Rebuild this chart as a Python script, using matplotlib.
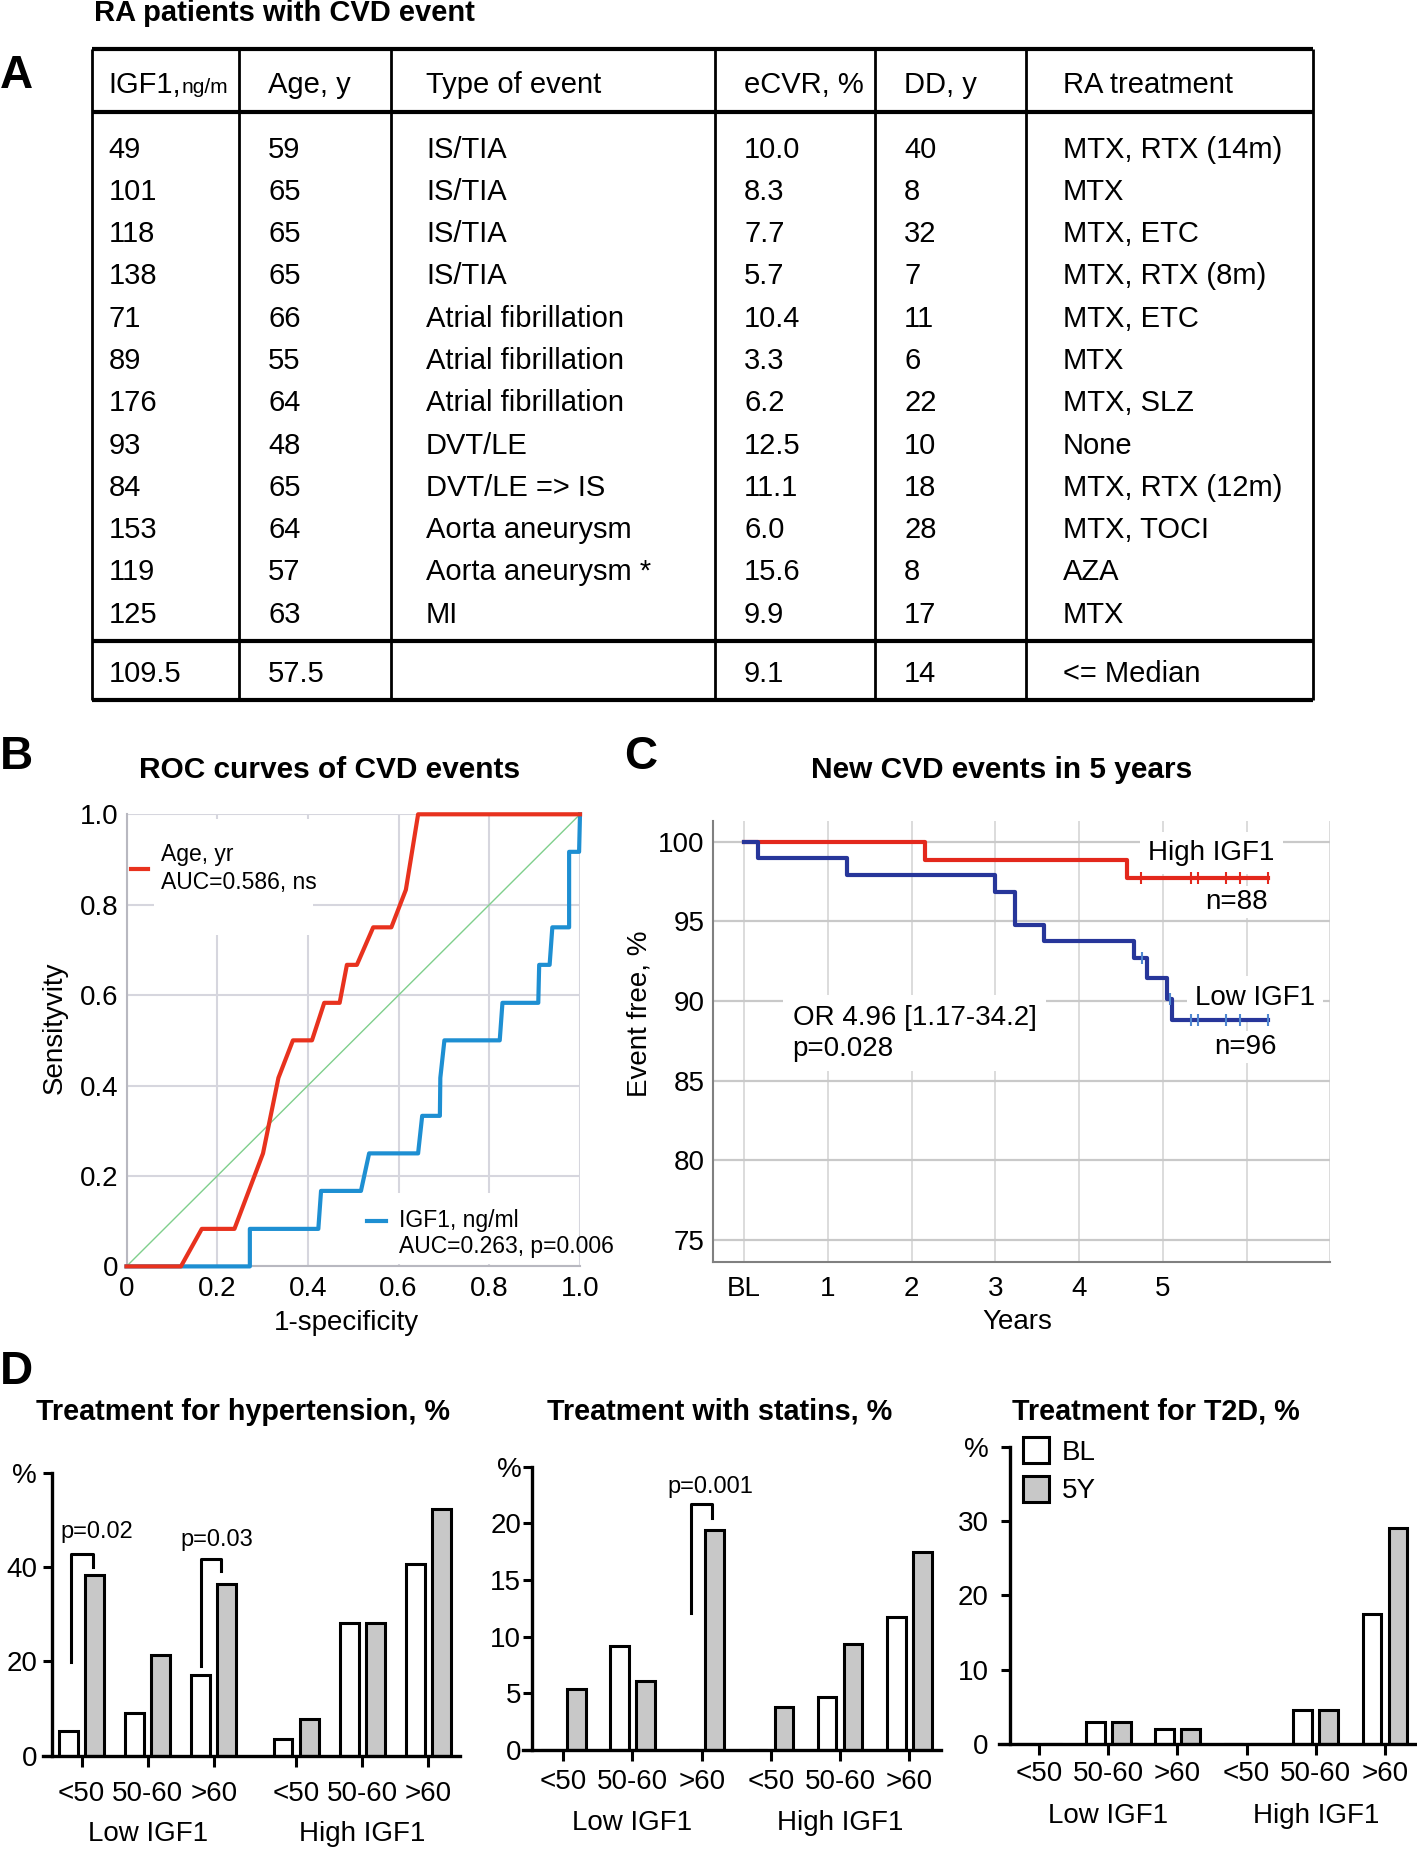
import numpy as np
import matplotlib.pyplot as plt
from matplotlib.patches import Rectangle

plt.rcParams['font.family'] = ['Liberation Sans', 'DejaVu Sans']

W, H = 1417, 1853

# ---- A: table of RA patients with CVD event
igf1_vals = ['49', '101', '118', '138', '71', '89', '176', '93', '84', '153', '119', '125']
age_vals = ['59', '65', '65', '65', '66', '55', '64', '48', '65', '64', '57', '63']
event_types = ['IS/TIA', 'IS/TIA', 'IS/TIA', 'IS/TIA', 'Atrial fibrillation',
               'Atrial fibrillation', 'Atrial fibrillation', 'DVT/LE', 'DVT/LE => IS',
               'Aorta aneurysm', 'Aorta aneurysm *', 'MI']
ecvr_vals = ['10.0', '8.3', '7.7', '5.7', '10.4', '3.3', '6.2', '12.5', '11.1', '6.0', '15.6', '9.9']
dd_vals = ['40', '8', '32', '7', '11', '6', '22', '10', '18', '28', '8', '17']
ra_treatment = ['MTX, RTX (14m)', 'MTX', 'MTX, ETC', 'MTX, RTX (8m)', 'MTX, ETC', 'MTX',
                'MTX, SLZ', 'None', 'MTX, RTX (12m)', 'MTX, TOCI', 'AZA', 'MTX']
header = ['IGF1,', 'Age, y', 'Type of event', 'eCVR, %', 'DD, y', 'RA treatment']
median_row = ['109.5', '57.5', '', '9.1', '14', '<= Median']

# ---- B: ROC curves
age_fpr = [0, 0.12, 0.166, 0.238, 0.301, 0.335, 0.367, 0.409, 0.436, 0.47, 0.486,
           0.508, 0.544, 0.584, 0.616, 0.643, 1.0]
age_tpr = [0, 0, 0.083, 0.083, 0.25, 0.417, 0.5, 0.5, 0.583, 0.583, 0.667,
           0.667, 0.75, 0.75, 0.833, 1.0, 1.0]
igf_fpr = [0, 0.272, 0.272, 0.423, 0.429, 0.517, 0.535, 0.643, 0.652, 0.691, 0.692,
           0.701, 0.823, 0.829, 0.908, 0.910, 0.933, 0.939, 0.976, 0.976, 0.998, 1.0]
igf_tpr = [0, 0, 0.083, 0.083, 0.167, 0.167, 0.25, 0.25, 0.333, 0.333, 0.417,
           0.5, 0.5, 0.583, 0.583, 0.667, 0.667, 0.75, 0.75, 0.917, 0.917, 1.0]

# ---- C: Kaplan-Meier
high_t = [0, 2.16, 4.57, 6.25]
high_s = [100, 98.86, 97.73, 97.73]
high_cens_t = [4.74, 5.33, 5.42, 5.75, 5.92, 6.25]
high_cens_s = [97.73, 97.73, 97.73, 97.73, 97.73, 97.73]
low_t = [0, 0.17, 1.23, 3.0, 3.24, 3.58, 4.65, 4.81, 5.05, 5.11, 6.25]
low_s = [100, 98.96, 97.92, 96.87, 94.79, 93.75, 92.7, 91.45, 90.15, 88.8, 88.8]
low_cens_t = [4.75, 5.08, 5.33, 5.42, 5.75, 5.92, 6.25]
low_cens_s = [92.7, 90.15, 88.8, 88.8, 88.8, 88.8, 88.8]
km_xlabels = ['BL', '1', '2', '3', '4', '5', '', '']

# ---- D: treatments
age_groups = ['<50', '50-60', '>60', '<50', '50-60', '>60']
htn_bl = [5.3, 9.0, 17.1, 3.6, 28.2, 40.7]
htn_5y = [38.4, 21.4, 36.4, 7.7, 28.2, 52.4]
stat_bl = [0, 9.2, 0, 0, 4.65, 11.7]
stat_5y = [5.4, 6.1, 19.4, 3.8, 9.35, 17.45]
t2d_bl = [0, 2.96, 2.0, 0, 4.6, 17.5]
t2d_5y = [0, 2.96, 2.0, 0, 4.6, 29.1]

fig = plt.figure(figsize=(W / 100, H / 100), dpi=100)


def px_axes(x0, y0, x1, y1):
    return fig.add_axes([x0 / W, 1 - y1 / H, (x1 - x0) / W, (y1 - y0) / H])


bg = fig.add_axes([0, 0, 1, 1])
bg.set_xlim(0, W)
bg.set_ylim(H, 0)
bg.axis('off')

# table
col_x = [92, 239, 391, 715, 875, 1026, 1313]
text_x = [108.5, 268, 426, 744, 904, 1063]
bg.vlines(col_x, 48.5, 699.5, color='black', lw=2)
bg.hlines([48.5, 111.5, 640.5, 699.5], 92, 1313, color='black', lw=3)
fs_tab = 21
for j, h in enumerate(header):
    bg.text(text_x[j], 92.7, h, fontsize=fs_tab, va='baseline')
bg.text(182, 92.7, 'ng/m', fontsize=15, va='baseline')
rows = list(zip(igf1_vals, age_vals, event_types, ecvr_vals, dd_vals, ra_treatment))
for i, row in enumerate(rows):
    yb = 146.5 + 42.3 * i + 11
    for j, v in enumerate(row):
        bg.text(text_x[j], yb, v, fontsize=fs_tab, va='baseline')
for j, v in enumerate(median_row):
    bg.text(text_x[j], 682, v, fontsize=fs_tab, va='baseline')

bg.text(94.5, 13, 'RA patients with CVD event', fontsize=21, fontweight='bold', va='center')
for lab, x, y in [('A', 0, 76), ('B', 0, 757), ('C', 624, 757), ('D', 0, 1372)]:
    bg.text(x, y, lab, fontsize=33, fontweight='bold', va='center', ha='left')

bg.text(330, 770, 'ROC curves of CVD events', fontsize=21.5, fontweight='bold', ha='center', va='center')
bg.text(1002, 770, 'New CVD events in 5 years', fontsize=21.5, fontweight='bold', ha='center', va='center')
bg.text(243.5, 1412, 'Treatment for hypertension, %', fontsize=20.7, fontweight='bold', ha='center', va='center')
bg.text(720, 1412, 'Treatment with statins, %', fontsize=20.7, fontweight='bold', ha='center', va='center')
bg.text(1155.7, 1412, 'Treatment for T2D, %', fontsize=20.7, fontweight='bold', ha='center', va='center')

# ---- ROC
ax = px_axes(126.5, 814.3, 580, 1266.4)
ax.set_xlim(0, 1)
ax.set_ylim(0, 1)
ax.set_axisbelow(True)
ax.grid(True, color='#d6d6de', lw=1.5)
for s in ['top', 'right']:
    ax.spines[s].set_visible(False)
for s in ['left', 'bottom']:
    ax.spines[s].set_color('#b8b8c0')
    ax.spines[s].set_linewidth(1.5)
ticks = [0, 0.2, 0.4, 0.6, 0.8, 1.0]
tick_lbl = ['0', '0.2', '0.4', '0.6', '0.8', '1.0']
ax.set_xticks(ticks, tick_lbl)
ax.set_yticks(ticks, tick_lbl)
ax.tick_params(axis='x', length=0, labelsize=20, pad=7)
ax.tick_params(axis='y', length=0, labelsize=20, pad=6)
ax.plot([0, 1], [0, 1], color='#7fcf8c', lw=1, zorder=2)
ax.plot(igf_fpr, igf_tpr, color='#1e8fd2', lw=3, clip_on=False, zorder=3)
ax.plot(age_fpr, age_tpr, color='#e8321e', lw=3, clip_on=False, zorder=4)
ax.add_patch(Rectangle((0.061, 0.732), 0.351, 0.258, transform=ax.transAxes,
                       facecolor='white', edgecolor='none', zorder=1))
ax.add_patch(Rectangle((0.526, 0.005), 0.47, 0.158, transform=ax.transAxes,
                       facecolor='white', edgecolor='none', zorder=1))
ax.plot([0.009, 0.047], [0.88, 0.88], transform=ax.transAxes, color='#e8321e', lw=3, clip_on=False)
ax.text(0.076, 0.911, 'Age, yr', transform=ax.transAxes, fontsize=16.5, va='center')
ax.text(0.076, 0.850, 'AUC=0.586, ns', transform=ax.transAxes, fontsize=16.5, va='center')
ax.plot([0.53, 0.572], [0.10, 0.10], transform=ax.transAxes, color='#1e8fd2', lw=3, clip_on=False)
ax.text(0.601, 0.102, 'IGF1, ng/ml', transform=ax.transAxes, fontsize=16.5, va='center')
ax.text(0.601, 0.043, 'AUC=0.263, p=0.006', transform=ax.transAxes, fontsize=16.5, va='center')
bg.text(55, 1028, 'Sensityvity', fontsize=20, rotation=90, ha='center', va='center')
bg.text(346, 1323, '1-specificity', fontsize=20, ha='center', va='center')

# ---- Kaplan-Meier
km = px_axes(713, 821, 1330.5, 1262)
km.set_xlim(-0.37, 7.0)
km.set_ylim(73.6, 101.3)
km.set_axisbelow(True)
km.set_xticks(range(8), km_xlabels)
km.set_yticks([75, 80, 85, 90, 95, 100])
km.xaxis.grid(True, color='#d9d9d9', lw=1.3)
km.yaxis.grid(True, color='#c9c9c9', lw=1.6)
for s in ['top', 'right']:
    km.spines[s].set_visible(False)
for s in ['left', 'bottom']:
    km.spines[s].set_color('#808080')
    km.spines[s].set_linewidth(1.5)
km.tick_params(axis='x', length=0, labelsize=20, pad=10)
km.tick_params(axis='y', length=0, labelsize=20, pad=6)
km.plot(high_t, high_s, drawstyle='steps-post', color='#e3281c', lw=3, zorder=5)
km.plot(low_t, low_s, drawstyle='steps-post', color='#27369a', lw=3, zorder=5)
km.plot(high_cens_t, high_cens_s, ls='none', marker='|', ms=8, mew=1.5, color='#e3281c', zorder=6)
km.plot(low_cens_t, low_cens_s, ls='none', marker='|', ms=8, mew=1.5, color='#4f86d0', zorder=6)
wb = dict(facecolor='white', edgecolor='none', pad=6)
km.text(5.58, 99.3, 'High IGF1', fontsize=20, ha='center', va='center', bbox=wb)
km.text(5.88, 96.2, 'n=88', fontsize=20, ha='center', va='center', bbox=dict(facecolor='white', edgecolor='none', pad=2))
km.text(6.1, 90.2, 'Low IGF1', fontsize=20, ha='center', va='center', bbox=wb)
km.text(5.98, 87.1, 'n=96', fontsize=20, ha='center', va='center', bbox=dict(facecolor='white', edgecolor='none', pad=2))
km.text(0.58, 87.97, 'OR 4.96 [1.17-34.2]\np=0.028', fontsize=20, ha='left', va='center',
        linespacing=1.25, bbox=dict(facecolor='white', edgecolor='none', pad=7))
bg.text(640, 1014, 'Event free, %', fontsize=20, rotation=90, ha='center', va='center')
bg.text(1017, 1322, 'Years', fontsize=20, ha='center', va='center')


# ---- bar panels
def bar_panel(rect, pos, xlim, bl, y5, ymax, yticks, ylabels, spine_frac,
              xpad, ypad, group_off, unit_px):
    a = px_axes(*rect)
    a.set_facecolor('none')
    pos = np.array(pos)
    w = 18.5 / unit_px
    off = 13 / unit_px
    b1 = a.bar(pos - off, bl, w, color='white', edgecolor='black', lw=2.2, zorder=2)
    b2 = a.bar(pos + off, y5, w, color='#c8c8c8', edgecolor='black', lw=2.2, zorder=2)
    a.set_xlim(*xlim)
    a.set_ylim(0, ymax)
    for s in ['top', 'right']:
        a.spines[s].set_visible(False)
    for s in ['left', 'bottom']:
        a.spines[s].set_linewidth(2.4)
    a.spines['left'].set_position(('axes', spine_frac))
    a.set_xticks(pos, age_groups)
    a.set_yticks(yticks, ylabels)
    a.tick_params(axis='x', length=8, width=2.2, labelsize=20, pad=xpad)
    a.tick_params(axis='y', length=6.5, width=2.2, labelsize=20, pad=ypad)
    for gx, gl in [(pos[:3].mean(), 'Low IGF1'), (pos[3:].mean(), 'High IGF1')]:
        a.annotate(gl, xy=(gx, 0), xycoords=('data', 'axes fraction'),
                   xytext=(0, -group_off * 0.72), textcoords='offset points',
                   ha='center', va='center', fontsize=20)
    return a, b1, b2


def bracket(a, x1, x2, y1, ytop, y2, label, lx, ly):
    a.plot([x1, x1, x2, x2], [y1, ytop, ytop, y2], color='black', lw=2.2, zorder=3)
    a.text(lx, ly, label, fontsize=17, ha='center', va='center')


a1, _, _ = bar_panel((42.7, 1472.7, 460, 1755.7), [0, 1, 2, 3.25, 4.25, 5.25], (-0.59, 5.73),
                     htn_bl, htn_5y, 60, [0, 20, 40, 60], ['0', '20', '40', '%'],
                     9 / 417.3, 10, 4, 78, 66)
bracket(a1, -0.16, 0.17, 19.8, 42.8, 40.0, 'p=0.02', 0.23, 47.5)
bracket(a1, 1.80, 2.11, 19.1, 41.75, 39.2, 'p=0.03', 2.04, 45.75)

a2, _, _ = bar_panel((523.3, 1466.7, 940.7, 1750), [0, 1, 2, 3, 4, 5], (-0.578, 5.454),
                     stat_bl, stat_5y, 25, [0, 5, 10, 15, 20, 25], ['0', '5', '10', '15', '20', '%'],
                     8.4 / 417.4, 6, 1, 73, 69.2)
bracket(a2, 1.846, 2.154, 12.06, 21.7, 20.5, 'p=0.001', 2.12, 23.2)

a3, bb1, bb2 = bar_panel((999, 1446.6, 1417, 1744.3), [0, 1, 2, 3, 4, 5], (-0.583, 5.466),
                         t2d_bl, t2d_5y, 40, [0, 10, 20, 30, 40], ['0', '10', '20', '30', '%'],
                         11 / 418, 4, 9, 72, 69.1)
a3.legend([bb1, bb2], ['BL', '5Y'], loc='upper left', bbox_to_anchor=(0.0574, 1.032),
          frameon=False, fontsize=20, handlelength=0.94, handleheight=1.08,
          handletextpad=0.47, labelspacing=0.36, borderpad=0, borderaxespad=0)

fig.savefig('out.png', dpi=100)
